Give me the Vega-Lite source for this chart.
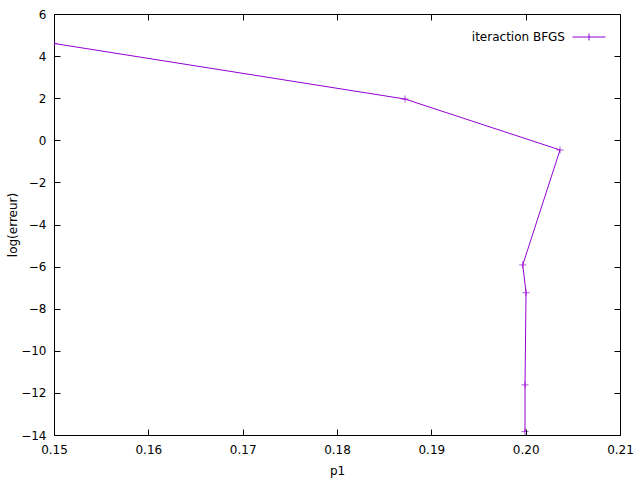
{
  "$schema": "https://vega.github.io/schema/vega-lite/v6.json",
  "width": 566,
  "height": 421,
  "autosize": {"type": "none"},
  "padding": {"left": 54, "top": 14, "right": 20, "bottom": 45},
  "background": "white",
  "config": {
    "font": "DejaVu Sans",
    "view": {"stroke": "black", "strokeWidth": 1},
    "axis": {
      "grid": false,
      "labelFlush": false,
      "labelOverlap": false,
      "labelFont": "DejaVu Sans",
      "labelFontSize": 12,
      "labelColor": "black",
      "titleFont": "DejaVu Sans",
      "titleFontSize": 12,
      "titleFontWeight": "normal",
      "titleColor": "black"
    }
  },
  "data": {
    "values": [
      {"i": 0, "p1": 0.15, "err": 4.6},
      {"i": 1, "p1": 0.18721, "err": 1.96},
      {"i": 2, "p1": 0.20364, "err": -0.46},
      {"i": 3, "p1": 0.19969, "err": -5.92},
      {"i": 4, "p1": 0.20004, "err": -7.24},
      {"i": 5, "p1": 0.19993, "err": -11.62},
      {"i": 6, "p1": 0.19993, "err": -13.84}
    ]
  },
  "encoding": {
    "x": {
      "field": "p1", "type": "quantitative",
      "scale": {"domain": [0.15, 0.21], "nice": false, "zero": false, "padding": 0}
    },
    "y": {
      "field": "err", "type": "quantitative",
      "scale": {"domain": [-14, 6], "nice": false, "zero": false, "padding": 0}
    }
  },
  "layer": [
    {
      "mark": {"type": "line", "clip": true, "strokeWidth": 1},
      "encoding": {
        "x": {
          "field": "p1", "type": "quantitative",
          "axis": {"values": [0.15, 0.16, 0.17, 0.18, 0.19, 0.2, 0.21], "format": ".2f", "domain": true, "domainOpacity": 0, "offset": -6, "ticks": true, "tickSize": 6, "tickColor": "#000000", "tickWidth": 1, "zindex": 1, "labelPadding": 9, "title": "p1", "titlePadding": 10}
        },
        "y": {
          "field": "err", "type": "quantitative",
          "axis": {"values": [-14, -12, -10, -8, -6, -4, -2, 0, 2, 4, 6], "domain": true, "domainOpacity": 0, "offset": -6, "ticks": true, "tickSize": 6, "tickColor": "#000000", "tickWidth": 1, "zindex": 1, "labelPadding": 8, "title": "log(erreur)", "titlePadding": 1}
        },
        "order": {"field": "i", "type": "quantitative"},
        "color": {
          "datum": "iteraction BFGS",
          "type": "nominal",
          "scale": {"range": ["#9400d3"]},
          "legend": {
            "title": null,
            "orient": "none",
            "legendX": 518,
            "legendY": 6,
            "symbolType": "M-1,0L1,0M0,-0.21L0,0.21",
            "symbolSize": 1089,
            "symbolStrokeWidth": 1,
            "labelAlign": "right",
            "labelOffset": -41,
            "labelFontSize": 12,
            "labelColor": "black",
            "labelFont": "DejaVu Sans"
          }
        }
      }
    },
    {
      "mark": {"type": "point", "clip": true, "shape": "M-1,0L1,0M0,-1L0,1", "size": 49, "strokeWidth": 1, "color": "#9400d3", "filled": false},
      "encoding": {
        "x": {"field": "p1", "type": "quantitative", "axis": {"orient": "top", "values": [0.15, 0.16, 0.17, 0.18, 0.19, 0.2, 0.21], "labels": false, "title": null, "domain": true, "domainOpacity": 0, "offset": -6, "ticks": true, "tickSize": 6, "tickColor": "#000000", "tickWidth": 1, "zindex": 1}},
        "y": {"field": "err", "type": "quantitative", "axis": {"orient": "right", "values": [-14, -12, -10, -8, -6, -4, -2, 0, 2, 4, 6], "labels": false, "title": null, "domain": true, "domainOpacity": 0, "offset": -6, "ticks": true, "tickSize": 6, "tickColor": "#000000", "tickWidth": 1, "zindex": 1}}
      }
    }
  ],
  "resolve": {"axis": {"x": "independent", "y": "independent"}}
}
